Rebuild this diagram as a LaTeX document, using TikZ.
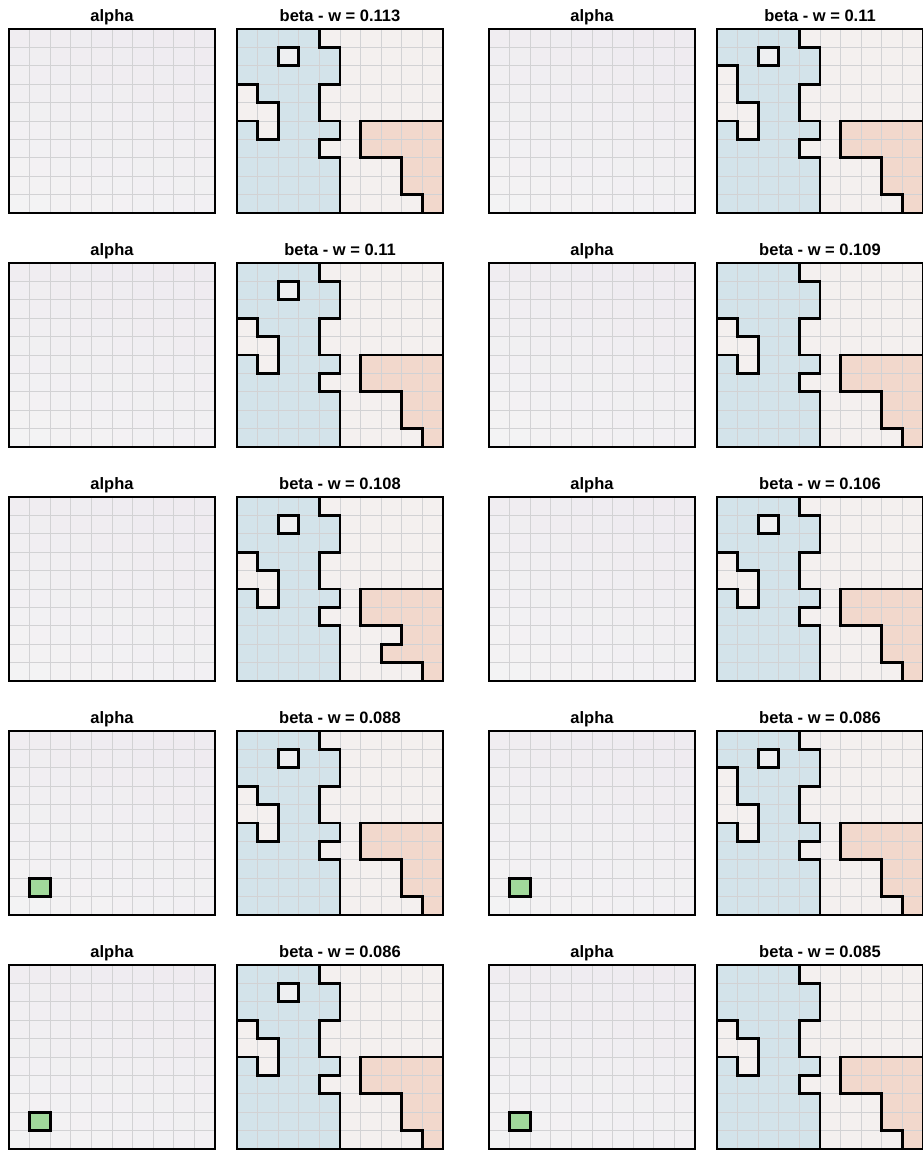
\documentclass[tikz,border=0pt]{standalone}
\usepackage{fontspec}
\setmainfont{Liberation Sans}
\definecolor{blueC}{HTML}{D3E3EA}
\definecolor{restC}{HTML}{F4F0EF}
\definecolor{orangeC}{HTML}{F2D8CC}
\definecolor{holeC}{HTML}{EEEFF1}
\definecolor{greenC}{HTML}{A1D99B}
\definecolor{gridC}{HTML}{D2D2D4}
\definecolor{lav}{HTML}{EEEAF0}
\definecolor{pale}{HTML}{F4F4F4}
\tikzset{
  outline/.style={draw=black, line width=2.7pt, line join=miter},
  gridline/.style={draw=gridC, line width=0.9pt},
  paneltitle/.style={font=\bfseries\fontsize{16.5}{18}\selectfont, anchor=base, inner sep=0pt},
}
% #1 x, #2 y, #3 green (1/0), #4 node name
\newcommand\alphapanel[4]{%
  \begin{scope}[shift={(#1pt,-#2pt)}, x=20.6pt, y=-18.4pt]
    \foreach \c in {0,...,9}{\foreach \r in {0,...,9}{%
      \pgfmathtruncatemacro\pp{max(0,min(100,35+6*\r-3*\c))}%
      \fill[pale!\pp!lav] (\c,\r) rectangle ++(1,1);}}
    \foreach \i in {1,...,9}{\draw[gridline] (\i,0) -- (\i,10); \draw[gridline] (0,\i) -- (10,\i);}
    \ifnum#3=1
      \fill[greenC] (1,8) rectangle (2,9);
      \draw[outline] (1,8) rectangle (2,9);
    \fi
    \draw[outline] (0,0) rectangle (10,10);
  \end{scope}
  \node[paneltitle] (#4) at (#1pt+103pt,-#2pt+8pt) {alpha};
}
% #1 x, #2 y, #3 notch (0=A,1=B), #4 hole (1/0), #5 orange variant (0/1), #6 title, #7 name
\newcommand\betapanel[7]{%
  \begin{scope}[shift={(#1pt,-#2pt)}, x=20.6pt, y=-18.4pt]
    \fill[restC] (0,0) rectangle (10,10);
    \fill[blueC] (0,0) -- (4,0) -- (4,1) -- (5,1) -- (5,3) -- (4,3) -- (4,5) -- (5,5) -- (5,6) -- (4,6) -- (4,7) -- (5,7) -- (5,10) -- (0,10) -- cycle;
    \ifnum#3=0
      \fill[restC] (0,3) -- (1,3) -- (1,4) -- (2,4) -- (2,6) -- (1,6) -- (1,5) -- (0,5) -- cycle;
    \else
      \fill[restC] (0,2) -- (1,2) -- (1,4) -- (2,4) -- (2,6) -- (1,6) -- (1,5) -- (0,5) -- cycle;
    \fi
    \ifnum#4=1 \fill[holeC] (2,1) rectangle (3,2); \fi
    \ifnum#5=0
      \fill[orangeC] (6,5) -- (10,5) -- (10,10) -- (9,10) -- (9,9) -- (8,9) -- (8,7) -- (6,7) -- cycle;
    \else
      \fill[orangeC] (6,5) -- (10,5) -- (10,10) -- (9,10) -- (9,9) -- (7,9) -- (7,8) -- (8,8) -- (8,7) -- (6,7) -- cycle;
    \fi
    \foreach \i in {1,...,9}{\draw[gridline] (\i,0) -- (\i,10); \draw[gridline] (0,\i) -- (10,\i);}
    \draw[outline] (4,0) -- (4,1) -- (5,1) -- (5,3) -- (4,3) -- (4,5) -- (5,5) -- (5,6) -- (4,6) -- (4,7) -- (5,7) -- (5,10);
    \ifnum#3=0
      \draw[outline] (0,3) -- (1,3) -- (1,4) -- (2,4) -- (2,6) -- (1,6) -- (1,5) -- (0,5);
    \else
      \draw[outline] (0,2) -- (1,2) -- (1,4) -- (2,4) -- (2,6) -- (1,6) -- (1,5) -- (0,5);
    \fi
    \ifnum#4=1 \draw[outline] (2,1) rectangle (3,2); \fi
    \ifnum#5=0
      \draw[outline] (10,5) -- (6,5) -- (6,7) -- (8,7) -- (8,9) -- (9,9) -- (9,10);
    \else
      \draw[outline] (10,5) -- (6,5) -- (6,7) -- (8,7) -- (8,8) -- (7,8) -- (7,9) -- (9,9) -- (9,10);
    \fi
    \draw[outline] (0,0) rectangle (10,10);
  \end{scope}
  \node[paneltitle] (#7) at (#1pt+103pt,-#2pt+8pt) {#6};
}
\begin{document}
\begin{tikzpicture}
  \useasboundingbox (0pt,0pt) rectangle (923pt,-1152pt);
  \fill[white] (0pt,0pt) rectangle (923pt,-1152pt);
  % row 1
  \alphapanel{9}{29}{0}{a11}
  \betapanel{237}{29}{0}{1}{0}{beta - w = 0.113}{b11}
  \alphapanel{489}{29}{0}{a12}
  \betapanel{717}{29}{1}{1}{0}{beta - w = 0.11}{b12}
  % row 2
  \alphapanel{9}{263}{0}{a21}
  \betapanel{237}{263}{0}{1}{0}{beta - w = 0.11}{b21}
  \alphapanel{489}{263}{0}{a22}
  \betapanel{717}{263}{0}{0}{0}{beta - w = 0.109}{b22}
  % row 3
  \alphapanel{9}{497}{0}{a31}
  \betapanel{237}{497}{0}{1}{1}{beta - w = 0.108}{b31}
  \alphapanel{489}{497}{0}{a32}
  \betapanel{717}{497}{0}{1}{0}{beta - w = 0.106}{b32}
  % row 4
  \alphapanel{9}{731}{1}{a41}
  \betapanel{237}{731}{0}{1}{0}{beta - w = 0.088}{b41}
  \alphapanel{489}{731}{1}{a42}
  \betapanel{717}{731}{1}{1}{0}{beta - w = 0.086}{b42}
  % row 5
  \alphapanel{9}{965}{1}{a51}
  \betapanel{237}{965}{0}{1}{0}{beta - w = 0.086}{b51}
  \alphapanel{489}{965}{1}{a52}
  \betapanel{717}{965}{0}{0}{0}{beta - w = 0.085}{b52}
\end{tikzpicture}
\end{document}
